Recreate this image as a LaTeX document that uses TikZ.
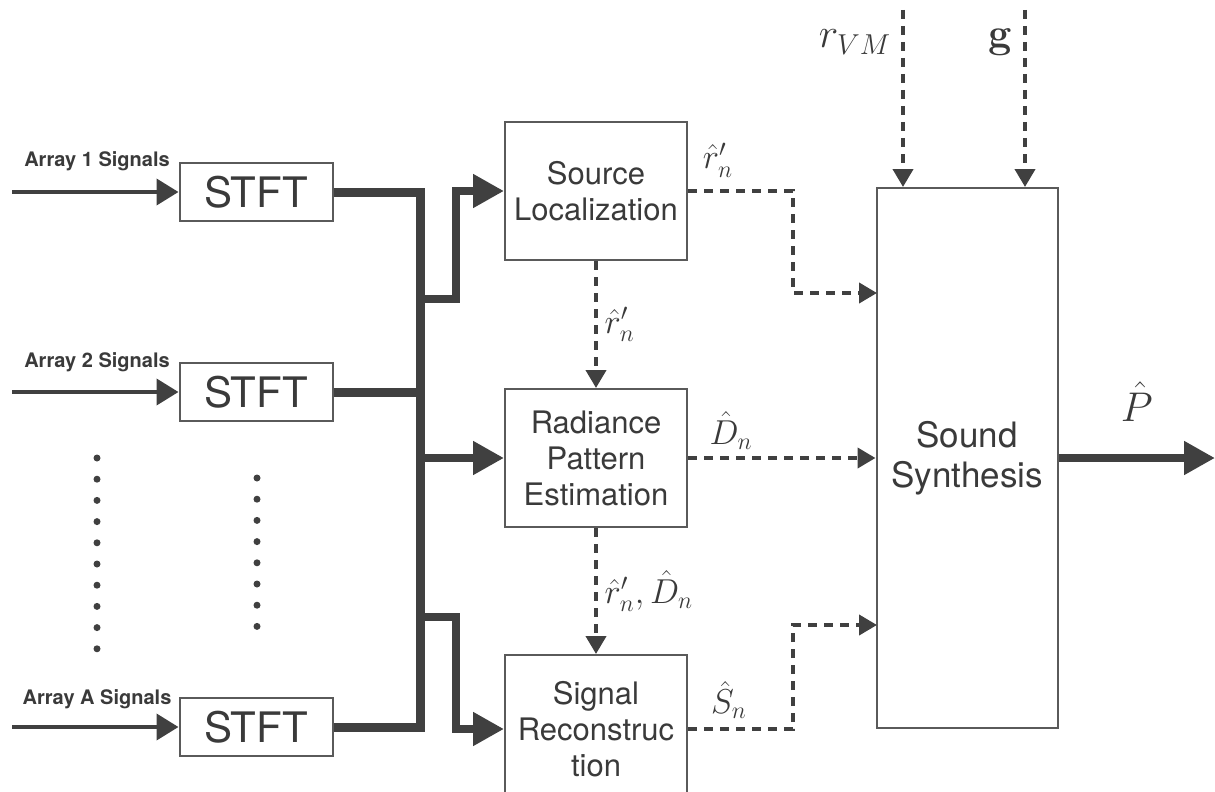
\documentclass[tikz,border=0pt]{standalone}
\usepackage[no-math]{fontspec}
\setmainfont{TeX Gyre Heros}
\usetikzlibrary{arrows.meta,positioning,calc}
\definecolor{ink}{HTML}{404040}
\definecolor{edge}{HTML}{5A5A5A}
\definecolor{txt}{HTML}{3A3A3A}

\begin{document}
\begin{tikzpicture}[
  x=0.5pt,y=-0.5pt,
  every node/.append style={text=txt},
  blk/.style={draw=edge, line width=1pt, fill=white, align=center, inner sep=0pt,
    minimum width=91pt, font=\fontsize{15.5}{18}\selectfont},
  stft/.style={draw=edge, line width=1pt, fill=white, inner sep=0pt,
    minimum width=76.5pt, minimum height=29pt, font=\fontsize{21}{24}\selectfont},
  sig/.style={font=\bfseries\fontsize{10}{12}\selectfont},
  bus/.style={draw=ink, line width=4.5pt},
  feed/.style={draw=ink, line width=4pt, -{Triangle[length=15.5pt,width=16pt]}},
  inp/.style={draw=ink, line width=2pt, -{Triangle[length=11pt,width=13pt]}},
  dline/.style={draw=ink, line width=2pt, dash pattern=on 4.5pt off 3.5pt,
    -{Triangle[length=9pt,width=10pt]}},
  lbl/.style={font=\fontsize{17}{20}\selectfont},
  big/.style={font=\fontsize{20}{24}\selectfont},
]
\useasboundingbox (0,0) rectangle (1215,792);
% analysis front end
\node[stft] (stft1) at (256,192) {STFT};
\node[stft] (stft2) at (256,392) {STFT};
\node[stft] (stftA) at (256,727) {STFT};
\node[sig] (sig1) at (97,161) {Array 1 Signals};
\node[sig] (sig2) at (97,362) {Array 2 Signals};
\node[sig] (sigA) at (97,699) {Array A Signals};
\coordinate (in1) at (12,192);
\coordinate (in2) at (12,392);
\coordinate (inA) at (12,727);
\foreach \k in {0,...,9} \fill[ink] (97,458+21.2*\k) circle (1.75pt);
\foreach \k in {0,...,7} \fill[ink] (257,478+21.2*\k) circle (1.75pt);
% processing blocks
\node[blk, minimum height=69pt] (src) at (596,191) {Source\\Localization};
\node[blk, minimum height=69pt] (rad) at (596,458) {Radiance\\Pattern\\Estimation};
\node[blk, minimum height=74pt] (rec) at (596,729) {Signal\\Reconstruc\\tion};
\node[blk, minimum width=90.5pt, minimum height=270pt,
  font=\fontsize{17.5}{20}\selectfont] (syn) at (967,458) {Sound\\Synthesis};
% bus and taps
\coordinate (bustop) at (420,192);
\coordinate (busbot) at (420,727);
\coordinate (tap1) at (420,299);
\coordinate (tap3) at (420,617);
\coordinate (elb1) at (456,191);
\coordinate (elb3) at (456,729);
\coordinate (synin1) at (877,293);
\coordinate (synin3) at (877,625);
\coordinate (vmtop) at (903,10);
\coordinate (gtop) at (1025,10);
\coordinate (out) at (1215,458);
% flows
\draw[inp] (in1) -- (stft1.west);
\draw[inp] (in2) -- (stft2.west);
\draw[inp] (inA) -- (stftA.west);
\draw[bus] (stft1.east) -- (bustop) -- (busbot) -- (stftA.east);
\draw[bus] (stft2.east) -- (stft2.east -| bustop);
\draw[feed] (tap1) -| (elb1) -- (src.west);
\draw[feed] (rad.west -| bustop) -- (rad.west);
\draw[feed] (tap3) -| (elb3) -- (rec.west);
\draw[dline] (src.east) -- ++(105,0) |- (synin1);
\node[lbl] (lsrc) at (718,160) {$\hat r'_n$};
\draw[dline] (src.south) -- node[lbl, right]{$\hat r'_n$} (rad.north);
\draw[dline] (rad.east) -- node[lbl, above, pos=0.23]{$\hat D_n$} (rad.east -| syn.west);
\draw[dline] (rad.south) -- node[lbl, right]{$\hat r'_n,\hat D_n$} (rec.north);
\draw[dline] (rec.east) -- ++(105,0) |- (synin3);
\node[lbl] (lrec) at (729,700) {$\hat S_n$};
\draw[dline] (vmtop) -- (vmtop |- syn.north);
\draw[dline] (gtop) -- (gtop |- syn.north);
\node[big] (lvm) at (855,42) {$r_{VM}$};
\node[big] (lg) at (1000,42) {$\mathbf{g}$};
\draw[feed] (syn.east) -- node[big, midway, above=13pt]{$\hat P$} (out);
\end{tikzpicture}
\end{document}
